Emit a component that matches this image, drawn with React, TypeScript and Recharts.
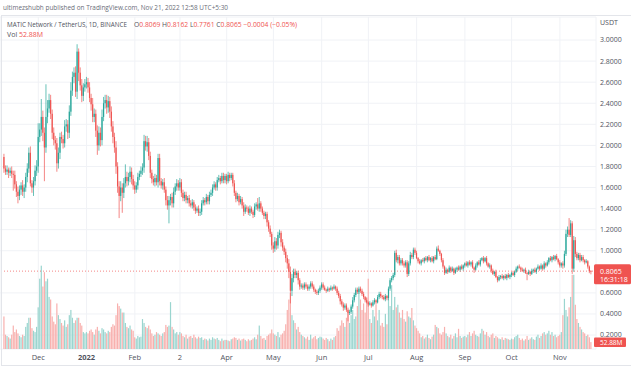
import React from 'react';
import { ComposedChart, Bar, XAxis, YAxis, CartesianGrid, ReferenceLine } from 'recharts';

const UP = '#26a69a';
const DOWN = '#ef5350';
const UP_VOL = '#9ad5cf';
const DOWN_VOL = '#f8b0ae';
const TEXT = '#50535e';
const FONT = "'Open Sans', 'DejaVu Sans', sans-serif";

// MATICUSDT daily, 9 Nov 2021 .. 21 Nov 2022 (open = previous close)
const FIRST_OPEN = 1.89;
const CLOSE_NOV21 = [1.78, 1.75, 1.77, 1.74, 1.76, 1.73, 1.72, 1.63, 1.56, 1.52, 1.58, 1.62, 1.56, 1.6, 1.7, 1.78, 1.93, 1.64, 1.6, 1.66, 1.76, 1.8];
const CLOSE_DEC21 = [2.08, 2.15, 2.27, 2.12, 1.98, 2.27, 2.35, 2.43, 2.3, 2.12, 2.05, 2.02, 1.83, 1.93, 2.08, 2.06, 2.02, 2.18, 2.2, 2.12, 2.32, 2.52, 2.65, 2.69, 2.51, 2.89, 2.69, 2.57, 2.47, 2.55, 2.58];
const CLOSE_JAN22 = [2.6, 2.55, 2.45, 2.39, 2.27, 2.3, 2.14, 2.0, 2.12, 2.05, 2.27, 2.4, 2.43, 2.36, 2.42, 2.32, 2.18, 2.08, 1.98, 1.8, 1.61, 1.52, 1.6, 1.55, 1.64, 1.7, 1.66, 1.7, 1.75, 1.68, 1.62];
const CLOSE_FEB22 = [1.58, 1.62, 1.7, 1.73, 1.76, 1.79, 2.04, 1.99, 2.03, 1.9, 1.74, 1.68, 1.65, 1.69, 1.65, 1.88, 1.66, 1.62, 1.65, 1.58, 1.48, 1.43, 1.48, 1.51, 1.45, 1.56, 1.61, 1.64];
const CLOSE_MAR22 = [1.6, 1.65, 1.55, 1.5, 1.53, 1.48, 1.5, 1.45, 1.43, 1.46, 1.41, 1.38, 1.4, 1.36, 1.37, 1.45, 1.48, 1.46, 1.51, 1.47, 1.53, 1.55, 1.6, 1.63, 1.6, 1.67, 1.69, 1.66, 1.71, 1.67, 1.71];
const CLOSE_APR22 = [1.66, 1.72, 1.69, 1.72, 1.64, 1.55, 1.49, 1.52, 1.46, 1.49, 1.43, 1.37, 1.41, 1.4, 1.36, 1.4, 1.37, 1.34, 1.42, 1.44, 1.4, 1.45, 1.4, 1.36, 1.33, 1.35, 1.27, 1.21, 1.16, 1.05];
const CLOSE_MAY22 = [1.02, 1.09, 1.05, 1.15, 1.17, 1.08, 1.03, 0.99, 0.93, 0.88, 0.8, 0.62, 0.74, 0.8, 0.77, 0.79, 0.72, 0.66, 0.67, 0.65, 0.68, 0.66, 0.64, 0.66, 0.69, 0.66, 0.63, 0.61, 0.6, 0.62, 0.65];
const CLOSE_JUN22 = [0.68, 0.65, 0.63, 0.62, 0.64, 0.63, 0.65, 0.64, 0.66, 0.64, 0.6, 0.57, 0.52, 0.49, 0.46, 0.48, 0.44, 0.41, 0.42, 0.47, 0.53, 0.58, 0.63, 0.61, 0.64, 0.62, 0.59, 0.56, 0.53, 0.51];
const CLOSE_JUL22 = [0.49, 0.5, 0.48, 0.51, 0.53, 0.51, 0.56, 0.59, 0.57, 0.56, 0.54, 0.57, 0.55, 0.64, 0.72, 0.74, 0.77, 0.98, 0.91, 0.94, 0.88, 0.91, 0.88, 0.86, 0.89, 0.78, 0.88, 0.96, 0.94, 1.01, 0.98];
const CLOSE_AUG22 = [0.93, 0.9, 0.88, 0.91, 0.9, 0.93, 0.91, 0.94, 0.91, 0.93, 0.9, 0.94, 0.92, 1.02, 1.0, 0.97, 0.91, 0.85, 0.79, 0.82, 0.8, 0.84, 0.81, 0.83, 0.79, 0.82, 0.84, 0.82, 0.85, 0.83, 0.86];
const CLOSE_SEP22 = [0.88, 0.86, 0.89, 0.87, 0.89, 0.84, 0.82, 0.86, 0.89, 0.87, 0.91, 0.93, 0.9, 0.93, 0.88, 0.85, 0.86, 0.81, 0.78, 0.8, 0.75, 0.72, 0.75, 0.76, 0.74, 0.76, 0.74, 0.77, 0.75, 0.77];
const CLOSE_OCT22 = [0.79, 0.77, 0.8, 0.83, 0.85, 0.84, 0.82, 0.81, 0.82, 0.79, 0.78, 0.8, 0.78, 0.81, 0.82, 0.8, 0.83, 0.85, 0.83, 0.86, 0.83, 0.88, 0.86, 0.89, 0.93, 0.91, 0.94, 0.92, 0.95, 0.92, 0.89];
const CLOSE_NOV22 = [0.86, 0.88, 0.86, 0.97, 1.16, 1.2, 1.15, 1.26, 0.83, 1.1, 0.97, 0.93, 0.96, 0.91, 0.94, 0.91, 0.89, 0.9, 0.85, 0.8069, 0.8065];

// upper wick above the body, per day
const WICK_UP_NOV21 = [0.03, 0.03, 0.04, 0.02, 0.03, 0.04, 0.03, 0.04, 0.03, 0.05, 0.04, 0.03, 0.05, 0.03, 0.04, 0.05, 0.05, 0.06, 0.03, 0.04, 0.05, 0.06];
const WICK_UP_DEC21 = [0.13, 0.06, 0.17, 0.06, 0.05, 0.31, 0.08, 0.06, 0.05, 0.04, 0.05, 0.04, 0.05, 0.05, 0.04, 0.05, 0.04, 0.06, 0.05, 0.04, 0.06, 0.08, 0.05, 0.05, 0.06, 0.07, 0.03, 0.05, 0.06, 0.04, 0.05];
const WICK_UP_JAN22 = [0.05, 0.04, 0.05, 0.04, 0.06, 0.05, 0.04, 0.05, 0.06, 0.05, 0.07, 0.06, 0.05, 0.05, 0.05, 0.04, 0.05, 0.05, 0.04, 0.06, 0.04, 0.05, 0.06, 0.04, 0.05, 0.12, 0.05, 0.04, 0.05, 0.04, 0.04];
const WICK_UP_FEB22 = [0.04, 0.03, 0.04, 0.03, 0.04, 0.04, 0.06, 0.05, 0.06, 0.04, 0.04, 0.03, 0.03, 0.04, 0.03, 0.04, 0.04, 0.03, 0.03, 0.04, 0.03, 0.04, 0.04, 0.03, 0.04, 0.04, 0.03, 0.04];
const WICK_UP_MAR22 = [0.03, 0.04, 0.03, 0.03, 0.03, 0.03, 0.02, 0.03, 0.03, 0.03, 0.02, 0.03, 0.02, 0.03, 0.03, 0.03, 0.03, 0.02, 0.03, 0.02, 0.03, 0.03, 0.03, 0.03, 0.02, 0.03, 0.03, 0.02, 0.03, 0.03, 0.02];
const WICK_UP_APR22 = [0.02, 0.03, 0.02, 0.02, 0.02, 0.03, 0.02, 0.03, 0.02, 0.03, 0.02, 0.03, 0.03, 0.02, 0.02, 0.03, 0.02, 0.02, 0.03, 0.02, 0.06, 0.06, 0.02, 0.02, 0.02, 0.02, 0.02, 0.02, 0.03, 0.02];
const WICK_UP_MAY22 = [0.03, 0.04, 0.03, 0.03, 0.03, 0.02, 0.03, 0.02, 0.03, 0.03, 0.04, 0.05, 0.04, 0.03, 0.03, 0.02, 0.02, 0.02, 0.02, 0.02, 0.02, 0.02, 0.02, 0.02, 0.02, 0.02, 0.02, 0.01, 0.02, 0.02, 0.02];
const WICK_UP_JUN22 = [0.02, 0.02, 0.02, 0.01, 0.02, 0.01, 0.02, 0.01, 0.02, 0.01, 0.02, 0.02, 0.02, 0.02, 0.02, 0.02, 0.02, 0.02, 0.02, 0.02, 0.03, 0.02, 0.02, 0.02, 0.02, 0.02, 0.02, 0.02, 0.01, 0.02];
const WICK_UP_JUL22 = [0.01, 0.02, 0.01, 0.02, 0.02, 0.01, 0.02, 0.02, 0.02, 0.01, 0.02, 0.02, 0.01, 0.02, 0.02, 0.02, 0.02, 0.02, 0.03, 0.02, 0.02, 0.02, 0.02, 0.02, 0.02, 0.02, 0.02, 0.03, 0.02, 0.02, 0.02];
const WICK_UP_AUG22 = [0.02, 0.01, 0.02, 0.01, 0.02, 0.01, 0.02, 0.01, 0.02, 0.01, 0.02, 0.01, 0.02, 0.02, 0.03, 0.01, 0.01, 0.02, 0.01, 0.02, 0.01, 0.02, 0.01, 0.02, 0.01, 0.02, 0.01, 0.02, 0.01, 0.02, 0.01];
const WICK_UP_SEP22 = [0.01, 0.02, 0.01, 0.02, 0.01, 0.02, 0.01, 0.02, 0.01, 0.02, 0.02, 0.01, 0.02, 0.01, 0.02, 0.01, 0.02, 0.01, 0.02, 0.01, 0.02, 0.01, 0.02, 0.01, 0.02, 0.01, 0.02, 0.01, 0.02, 0.01];
const WICK_UP_OCT22 = [0.01, 0.02, 0.01, 0.02, 0.01, 0.02, 0.01, 0.02, 0.01, 0.02, 0.01, 0.02, 0.01, 0.02, 0.01, 0.02, 0.01, 0.02, 0.01, 0.02, 0.01, 0.02, 0.01, 0.02, 0.01, 0.02, 0.01, 0.02, 0.01, 0.02, 0.01];
const WICK_UP_NOV22 = [0.02, 0.01, 0.02, 0.03, 0.04, 0.03, 0.11, 0.03, 0.02, 0.04, 0.03, 0.02, 0.02, 0.02, 0.02, 0.02, 0.01, 0.02, 0.01, 0.01, 0.0093];

// lower wick below the body, per day
const WICK_DN_NOV21 = [0.04, 0.03, 0.03, 0.05, 0.03, 0.04, 0.15, 0.04, 0.05, 0.07, 0.04, 0.05, 0.04, 0.06, 0.04, 0.05, 0.04, 0.03, 0.05, 0.08, 0.04, 0.05];
const WICK_DN_DEC21 = [0.06, 0.05, 0.06, 0.08, 0.32, 0.05, 0.06, 0.04, 0.05, 0.06, 0.05, 0.06, 0.08, 0.05, 0.06, 0.04, 0.05, 0.04, 0.05, 0.06, 0.05, 0.04, 0.05, 0.06, 0.05, 0.07, 0.08, 0.05, 0.06, 0.05, 0.04];
const WICK_DN_JAN22 = [0.04, 0.05, 0.04, 0.06, 0.05, 0.05, 0.06, 0.09, 0.05, 0.06, 0.05, 0.04, 0.05, 0.06, 0.05, 0.06, 0.05, 0.06, 0.05, 0.07, 0.06, 0.21, 0.05, 0.19, 0.05, 0.04, 0.05, 0.04, 0.05, 0.05, 0.04];
const WICK_DN_FEB22 = [0.04, 0.03, 0.04, 0.03, 0.03, 0.04, 0.05, 0.04, 0.05, 0.04, 0.05, 0.04, 0.03, 0.04, 0.03, 0.05, 0.04, 0.03, 0.04, 0.03, 0.05, 0.04, 0.17, 0.05, 0.04, 0.04, 0.03, 0.04];
const WICK_DN_MAR22 = [0.03, 0.03, 0.04, 0.03, 0.03, 0.03, 0.03, 0.03, 0.02, 0.03, 0.03, 0.03, 0.02, 0.03, 0.03, 0.03, 0.02, 0.03, 0.02, 0.03, 0.03, 0.02, 0.03, 0.02, 0.03, 0.03, 0.02, 0.03, 0.02, 0.03, 0.03];
const WICK_DN_APR22 = [0.03, 0.02, 0.03, 0.02, 0.03, 0.03, 0.03, 0.02, 0.03, 0.02, 0.03, 0.04, 0.02, 0.03, 0.02, 0.03, 0.02, 0.03, 0.02, 0.03, 0.02, 0.03, 0.03, 0.02, 0.03, 0.03, 0.04, 0.03, 0.03, 0.04];
const WICK_DN_MAY22 = [0.04, 0.03, 0.04, 0.03, 0.03, 0.04, 0.03, 0.03, 0.04, 0.05, 0.06, 0.12, 0.05, 0.04, 0.03, 0.03, 0.04, 0.03, 0.02, 0.02, 0.02, 0.02, 0.02, 0.02, 0.02, 0.02, 0.02, 0.02, 0.02, 0.02, 0.02];
const WICK_DN_JUN22 = [0.02, 0.02, 0.01, 0.02, 0.01, 0.02, 0.01, 0.02, 0.01, 0.02, 0.02, 0.02, 0.03, 0.02, 0.03, 0.02, 0.02, 0.08, 0.02, 0.02, 0.02, 0.02, 0.02, 0.02, 0.02, 0.02, 0.02, 0.02, 0.02, 0.01];
const WICK_DN_JUL22 = [0.02, 0.01, 0.02, 0.01, 0.02, 0.02, 0.01, 0.02, 0.02, 0.02, 0.01, 0.02, 0.02, 0.02, 0.02, 0.02, 0.02, 0.02, 0.02, 0.03, 0.02, 0.02, 0.02, 0.02, 0.02, 0.03, 0.02, 0.02, 0.02, 0.02, 0.02];
const WICK_DN_AUG22 = [0.01, 0.02, 0.01, 0.02, 0.01, 0.02, 0.01, 0.02, 0.01, 0.02, 0.01, 0.02, 0.01, 0.01, 0.01, 0.02, 0.02, 0.02, 0.02, 0.01, 0.02, 0.01, 0.02, 0.01, 0.02, 0.01, 0.02, 0.01, 0.02, 0.01, 0.02];
const WICK_DN_SEP22 = [0.02, 0.01, 0.02, 0.01, 0.02, 0.01, 0.03, 0.01, 0.02, 0.01, 0.02, 0.01, 0.02, 0.01, 0.02, 0.01, 0.02, 0.02, 0.01, 0.02, 0.01, 0.02, 0.01, 0.02, 0.01, 0.02, 0.01, 0.02, 0.01, 0.02];
const WICK_DN_OCT22 = [0.02, 0.01, 0.02, 0.01, 0.02, 0.01, 0.02, 0.01, 0.02, 0.01, 0.06, 0.01, 0.02, 0.01, 0.02, 0.01, 0.02, 0.01, 0.02, 0.01, 0.02, 0.01, 0.02, 0.01, 0.02, 0.01, 0.02, 0.01, 0.02, 0.01, 0.02];
const WICK_DN_NOV22 = [0.02, 0.02, 0.03, 0.02, 0.02, 0.03, 0.02, 0.02, 0.05, 0.03, 0.03, 0.02, 0.02, 0.02, 0.01, 0.02, 0.02, 0.01, 0.02, 0.02, 0.0304];

// volume, millions of MATIC
const VOL_NOV21 = [250, 110, 100, 90, 80, 110, 180, 130, 150, 120, 100, 90, 110, 100, 170, 200, 240, 240, 160, 140, 130, 170];
const VOL_DEC21 = [320, 540, 640, 480, 590, 520, 540, 400, 380, 250, 210, 190, 350, 260, 230, 200, 180, 220, 170, 190, 260, 300, 240, 200, 220, 240, 240, 200, 180, 130, 120];
const VOL_JAN22 = [130, 120, 140, 150, 130, 110, 150, 170, 140, 120, 160, 150, 130, 120, 140, 130, 170, 190, 180, 260, 350, 330, 310, 280, 280, 200, 170, 160, 180, 150, 140];
const VOL_FEB22 = [90, 80, 100, 90, 95, 230, 200, 170, 160, 180, 150, 120, 100, 110, 130, 120, 110, 100, 120, 130, 185, 170, 180, 360, 170, 150, 120, 130];
const VOL_MAR22 = [110, 130, 120, 100, 90, 110, 80, 95, 100, 85, 110, 90, 80, 95, 85, 90, 70, 80, 75, 65, 80, 70, 90, 80, 75, 85, 70, 60, 80, 65, 70];
const VOL_APR22 = [70, 65, 60, 75, 80, 90, 85, 70, 80, 65, 75, 80, 70, 60, 75, 65, 70, 80, 90, 75, 110, 180, 100, 80, 85, 70, 100, 110, 120, 150];
const VOL_MAY22 = [120, 110, 100, 130, 90, 110, 120, 140, 190, 300, 380, 430, 260, 220, 200, 150, 170, 130, 110, 100, 90, 80, 95, 70, 110, 80, 90, 100, 75, 85, 95];
const VOL_JUN22 = [90, 80, 70, 85, 75, 60, 80, 70, 90, 100, 160, 140, 180, 220, 200, 170, 240, 280, 200, 260, 300, 230, 250, 330, 450, 380, 300, 350, 280, 400];
const VOL_JUL22 = [540, 230, 200, 300, 250, 340, 220, 300, 180, 200, 170, 270, 190, 380, 330, 490, 300, 400, 320, 340, 280, 240, 300, 230, 210, 290, 250, 240, 315, 220, 180];
const VOL_AUG22 = [160, 140, 120, 90, 100, 80, 90, 110, 85, 75, 95, 110, 185, 170, 160, 120, 110, 130, 170, 120, 100, 90, 110, 80, 100, 120, 90, 155, 100, 85, 95];
const VOL_SEP22 = [100, 90, 110, 130, 100, 120, 140, 110, 100, 95, 120, 155, 140, 110, 130, 100, 90, 110, 120, 85, 100, 90, 80, 75, 90, 70, 85, 80, 75, 70];
const VOL_OCT22 = [80, 75, 90, 100, 110, 85, 70, 80, 65, 75, 100, 70, 80, 90, 75, 70, 95, 110, 85, 100, 120, 130, 110, 120, 140, 110, 130, 100, 110, 90, 100];
const VOL_NOV22 = [110, 130, 260, 385, 300, 250, 320, 400, 570, 570, 340, 230, 200, 170, 150, 130, 120, 100, 110, 90, 52.88];

// day index of each time-axis label (0 = 9 Nov 2021)
const MONTH_TICKS = [22, 53, 84, 113, 143, 173, 204, 234, 265, 296, 326, 357];
const MONTH_LABELS = ['Dec', '2022', 'Feb', '2', 'Apr', 'May', 'Jun', 'Jul', 'Aug', 'Sep', 'Oct', 'Nov'];
const PRICE_TICKS = [0.2, 0.4, 0.6, 1.0, 1.2, 1.4, 1.6, 1.8, 2.0, 2.2, 2.4, 2.6, 2.8, 3.0];
const LAST_PRICE = 0.8065;
const LAST_VOLUME = 52.88;

const CLOSES = [
  ...CLOSE_NOV21, ...CLOSE_DEC21, ...CLOSE_JAN22, ...CLOSE_FEB22, ...CLOSE_MAR22, ...CLOSE_APR22,
  ...CLOSE_MAY22, ...CLOSE_JUN22, ...CLOSE_JUL22, ...CLOSE_AUG22, ...CLOSE_SEP22, ...CLOSE_OCT22, ...CLOSE_NOV22,
];
const WICK_UP = [
  ...WICK_UP_NOV21, ...WICK_UP_DEC21, ...WICK_UP_JAN22, ...WICK_UP_FEB22, ...WICK_UP_MAR22, ...WICK_UP_APR22,
  ...WICK_UP_MAY22, ...WICK_UP_JUN22, ...WICK_UP_JUL22, ...WICK_UP_AUG22, ...WICK_UP_SEP22, ...WICK_UP_OCT22, ...WICK_UP_NOV22,
];
const WICK_DN = [
  ...WICK_DN_NOV21, ...WICK_DN_DEC21, ...WICK_DN_JAN22, ...WICK_DN_FEB22, ...WICK_DN_MAR22, ...WICK_DN_APR22,
  ...WICK_DN_MAY22, ...WICK_DN_JUN22, ...WICK_DN_JUL22, ...WICK_DN_AUG22, ...WICK_DN_SEP22, ...WICK_DN_OCT22, ...WICK_DN_NOV22,
];
const VOLUME = [
  ...VOL_NOV21, ...VOL_DEC21, ...VOL_JAN22, ...VOL_FEB22, ...VOL_MAR22, ...VOL_APR22,
  ...VOL_MAY22, ...VOL_JUN22, ...VOL_JUL22, ...VOL_AUG22, ...VOL_SEP22, ...VOL_OCT22, ...VOL_NOV22,
];

const data = CLOSES.map((close, i) => {
  const open = i === 0 ? FIRST_OPEN : CLOSES[i - 1];
  const high = Math.max(open, close) + (WICK_UP[i] ?? 0);
  const low = Math.min(open, close) - (WICK_DN[i] ?? 0);
  return { i, open, close, high, low, range: [low, high], vol: VOLUME[i] ?? 0 };
});

function Candle(props: any) {
  const { x, y, width, height, payload } = props;
  if (!payload || height == null || isNaN(y)) return null;
  const cx = x + width / 2;
  const { open, close, high, low } = payload;
  const k = height / (high - low);
  const yO = y + (high - open) * k;
  const yC = y + (high - close) * k;
  const color = close >= open ? UP : DOWN;
  const top = Math.min(yO, yC);
  const h = Math.max(Math.abs(yO - yC), 0.8);
  return (
    <g>
      <line x1={cx} x2={cx} y1={y} y2={y + height} stroke={color} strokeWidth={0.7} />
      <rect x={cx - 0.6} y={top} width={1.2} height={h} fill={color} />
    </g>
  );
}

function VolumeBar(props: any) {
  const { x, y, width, height, payload } = props;
  if (!payload || height == null || isNaN(y)) return null;
  const cx = x + width / 2;
  const color = payload.close >= payload.open ? UP_VOL : DOWN_VOL;
  return <rect x={cx - 0.6} y={y} width={1.2} height={height} fill={color} />;
}

function PriceTick(props: any) {
  const { x, y, payload } = props;
  return (
    <text x={x} y={y} dy="0.35em" fontSize={7} fontFamily={FONT} fill={TEXT}>
      {Number(payload.value).toFixed(4)}
    </text>
  );
}

function MonthTick(props: any) {
  const { x, y, payload } = props;
  const label = MONTH_LABELS[MONTH_TICKS.indexOf(payload.value)];
  return (
    <text x={x} y={y} dy="0.35em" textAnchor="middle" fontSize={7.5} fontFamily={FONT} fill={TEXT} fontWeight={label === '2022' ? 700 : 400}>
      {label}
    </text>
  );
}

function PriceTag(props: any) {
  const vb = props.viewBox || {};
  const right = (vb.x || 0) + (vb.width || 0);
  const cy = (vb.y || 0) + (vb.height || 0) / 2;
  return (
    <g>
      <rect x={right - 2} y={cy - 7} width={37} height={20} fill={DOWN} rx={1.5} />
      <text x={right + 4} y={cy} dy="0.35em" fontSize={7} fontFamily={FONT} fill="#fff">
        {LAST_PRICE.toFixed(4)}
      </text>
      <text x={right + 4} y={cy + 8.5} dy="0.35em" fontSize={7} fontFamily={FONT} fill="#fff">
        16:31:18
      </text>
    </g>
  );
}

function VolumeTag(props: any) {
  const vb = props.viewBox || {};
  const right = (vb.x || 0) + (vb.width || 0);
  const cy = (vb.y || 0) + (vb.height || 0) / 2;
  return (
    <g>
      <rect x={right - 2} y={cy - 4.5} width={32} height={9.5} fill={DOWN} rx={1} />
      <text x={right + 4} y={cy + 0.5} dy="0.35em" fontSize={6.5} fontFamily={FONT} fill="#fff">
        {LAST_VOLUME.toFixed(2)}M
      </text>
    </g>
  );
}

export default function App() {
  return (
    <div style={{ position: 'absolute', left: 0, top: 0, width: 631, height: 369, background: '#fff' }}>
      <ComposedChart width={631} height={369} data={data} margin={{ top: 17, right: 0, bottom: 0, left: 0 }}>
        <CartesianGrid xAxisId="p" yAxisId="price" stroke="#f0f2f6" />
        <XAxis
          xAxisId="p"
          dataKey="i"
          type="number"
          domain={[-2.6, 380.2]}
          allowDataOverflow
          ticks={MONTH_TICKS}
          interval={0}
          tick={<MonthTick />}
          height={20}
          axisLine={false}
          tickLine={false}
          tickSize={0}
          tickMargin={8}
        />
        <XAxis xAxisId="v" dataKey="i" type="number" domain={[-2.6, 380.2]} allowDataOverflow hide />
        <YAxis
          yAxisId="price"
          orientation="right"
          width={35}
          domain={[0.0674, 3.2185]}
          allowDataOverflow
          ticks={PRICE_TICKS}
          interval={0}
          tick={<PriceTick />}
          axisLine={false}
          tickLine={false}
          tickSize={0}
          tickMargin={4}
        />
        <YAxis yAxisId="vol" hide domain={[0, 2550]} allowDataOverflow />
        <Bar xAxisId="v" yAxisId="vol" dataKey="vol" shape={VolumeBar} isAnimationActive={false} />
        <Bar xAxisId="p" yAxisId="price" dataKey="range" shape={Candle} isAnimationActive={false} />
        <ReferenceLine
          xAxisId="p"
          yAxisId="price"
          y={LAST_PRICE}
          stroke={DOWN}
          strokeOpacity={0.7}
          strokeDasharray="1 2"
          label={<PriceTag />}
        />
        <ReferenceLine xAxisId="v" yAxisId="vol" y={LAST_VOLUME} stroke="none" label={<VolumeTag />} />
      </ComposedChart>
      <svg width={631} height={369} style={{ position: 'absolute', left: 0, top: 0, pointerEvents: 'none' }}>
        <rect x={1.5} y={15.5} width={640} height={350} fill="none" stroke="#e3e5ea" />
        <text x={3} y={7} dominantBaseline="central" fontSize={6.8} fontFamily={FONT} fill="#6a6d78" textLength={225} lengthAdjust="spacingAndGlyphs">
          ultimezshubh published on TradingView.com, Nov 21, 2022 12:58 UTC+5:30
        </text>
        <text x={7} y={24} dominantBaseline="central" fontSize={6.3} fontFamily={FONT} fill={TEXT} textLength={120} lengthAdjust="spacingAndGlyphs">
          MATIC Network / TetherUS, 1D, BINANCE
        </text>
        <text x={134} y={24} dominantBaseline="central" fontSize={6.6} fontFamily={FONT} fill={TEXT} textLength={163} lengthAdjust="spacingAndGlyphs" style={{ whiteSpace: 'pre' }}>
          <tspan>O</tspan>
          <tspan fill={DOWN}>0.8069</tspan>
          <tspan>{' H'}</tspan>
          <tspan fill={DOWN}>0.8162</tspan>
          <tspan>{' L'}</tspan>
          <tspan fill={DOWN}>0.7761</tspan>
          <tspan>{' C'}</tspan>
          <tspan fill={DOWN}>0.8065</tspan>
          <tspan fill={DOWN}>{' \u22120.0004 (\u22120.05%)'}</tspan>
        </text>
        <text x={7} y={33.5} dominantBaseline="central" fontSize={7} fontFamily={FONT} fill={TEXT}>
          <tspan>Vol </tspan>
          <tspan fill={DOWN}>52.88M</tspan>
        </text>
        <text x={600} y={22} dominantBaseline="central" fontSize={7} fontFamily={FONT} fill={TEXT}>
          USDT
        </text>
      </svg>
    </div>
  );
}
